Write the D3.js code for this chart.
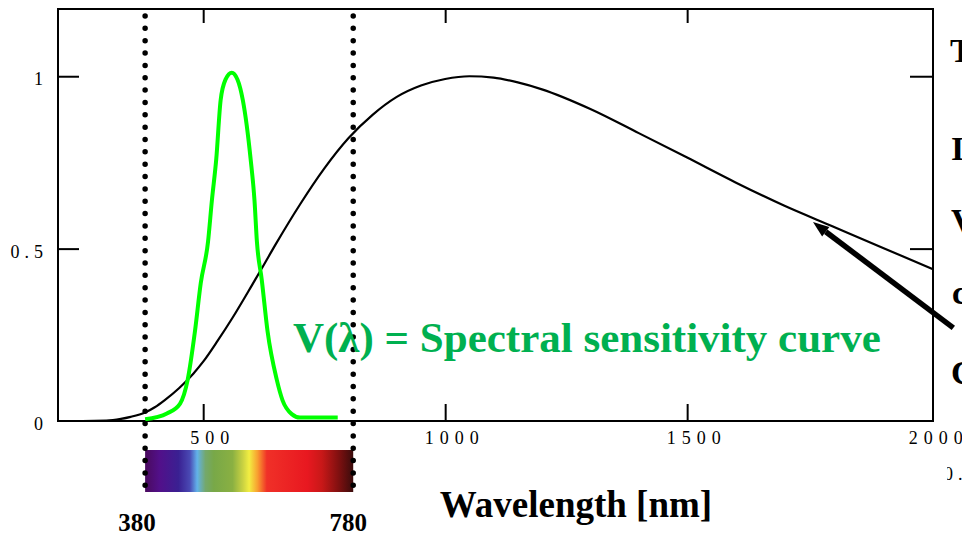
<!DOCTYPE html>
<html><head><meta charset="utf-8">
<script src="https://cdn.jsdelivr.net/npm/d3@7"></script>
<style>
html,body{margin:0;padding:0;background:#fff;overflow:hidden;}
svg{display:block;}
</style></head>
<body>
<script>
// ---- data ----
const blackWl  = [200,250,300,330,350,380,400,420,450,480,500,530,560,600,620,650,700,750,800,850,900,950,1000,1050,1100,1150,1200,1300,1400,1500,1600,1700,1800,1900,2008];
const blackVal = [0,0,0.001,0.006,0.012,0.025,0.04,0.06,0.095,0.138,0.172,0.233,0.298,0.392,0.44,0.513,0.628,0.732,0.82,0.888,0.94,0.973,0.992,1.0,0.996,0.982,0.962,0.905,0.835,0.764,0.692,0.625,0.565,0.505,0.44];
const greenWl  = [380,425,452,468,483,495,510,518,527,536,546,559,571,582,598,606,611,621,633,652,664,683,700,778];
const greenVal = [0.005,0.022,0.05,0.12,0.26,0.40,0.52,0.64,0.76,0.93,0.99,1.01,0.99,0.93,0.76,0.64,0.52,0.41,0.26,0.12,0.06,0.02,0.01,0.01];
const xTicks = [500,1000,1500,2000];
const yTicks = [0,0.5,1];
const visibleEdges = [380,810];
const edgeLabels = ["380","780"];
const spectrumStops = [
  [0.00,"#4a0a5e"],[0.07,"#52108a"],[0.16,"#3a2092"],[0.215,"#4a4ab4"],[0.25,"#62b2ea"],[0.29,"#74a86c"],[0.33,"#78a848"],[0.42,"#8ab042"],[0.47,"#cad242"],[0.50,"#f2ee42"],[0.54,"#f8a030"],[0.585,"#f03028"],[0.78,"#e81820"],[0.85,"#c81818"],[0.93,"#801010"],[1.00,"#3a0c0c"]
];
const arrowFrom = [2050,0.27];
const arrowTo = [1760,0.577];
const labelText = "V(λ) = Spectral sensitivity curve";

// ---- chart ----
const W=962,H=535;
const svg=d3.select("body").append("svg").attr("width",W).attr("height",H);
const x=d3.scaleLinear().domain([200,2008]).range([58,933]);
const y=d3.scaleLinear().domain([0,1.195]).range([421,9]);
const serif="'Liberation Serif','Times New Roman',serif";

// spectrum bar
const grad=svg.append("defs").append("linearGradient").attr("id","spec").attr("x1","0").attr("x2","1").attr("y1","0").attr("y2","0");
grad.selectAll("stop").data(spectrumStops).join("stop").attr("offset",d=>d[0]).attr("stop-color",d=>d[1]);
svg.append("rect").attr("x",x(visibleEdges[0])).attr("width",x(visibleEdges[1])-x(visibleEdges[0])).attr("y",450).attr("height",42).attr("fill","url(#spec)");

// frame
svg.append("rect").attr("x",58).attr("y",9).attr("width",875).attr("height",412).attr("fill","none").attr("stroke","#000").attr("stroke-width",2);

// axes
const tickStyle=g=>{g.select(".domain").remove();g.selectAll("line").attr("stroke","#000").attr("stroke-width",2);};
const gb=svg.append("g").attr("transform","translate(0,421)").call(d3.axisBottom(x).tickValues(xTicks).tickSize(-17).tickFormat(d3.format("d")));
tickStyle(gb);
gb.selectAll(".tick").filter(d=>d===2000).select("line").remove();
gb.selectAll("text").attr("y",23).attr("dy",0).attr("dx",9).attr("font-family",serif).attr("font-size",18).attr("letter-spacing","6px").attr("fill","#000");
const gt=svg.append("g").attr("transform","translate(0,9)").call(d3.axisTop(x).tickValues(xTicks.slice(0,3)).tickSize(-14).tickFormat(""));
tickStyle(gt);
const gl=svg.append("g").attr("transform","translate(58,0)").call(d3.axisLeft(y).tickValues(yTicks).tickSize(-21).tickFormat(d=>d===0.5?"0.5":d3.format("d")(d)));
tickStyle(gl);
gl.selectAll(".tick").filter(d=>d===0).select("line").remove();
gl.selectAll("text").attr("x",-10).attr("dy",8.5).attr("font-family",serif).attr("font-size",18).attr("letter-spacing","5px").attr("text-anchor","end").attr("fill","#000");
const gr=svg.append("g").attr("transform","translate(933,0)").call(d3.axisRight(y).tickValues([0.5,1]).tickSize(-23).tickFormat(""));
tickStyle(gr);

// black curve
const bData=blackWl.map((w,i)=>[w,blackVal[i]]);
svg.append("path").datum(bData).attr("fill","none").attr("stroke","#000").attr("stroke-width",2.2)
  .attr("d",d3.line().x(d=>x(d[0])).y(d=>y(d[1])).curve(d3.curveMonotoneX));

// green curve
const gData=greenWl.map((w,i)=>[w,greenVal[i]]);
svg.append("path").datum(gData).attr("fill","none").attr("stroke","#00ff00").attr("stroke-width",4).attr("stroke-linejoin","round")
  .attr("d",d3.line().x(d=>x(d[0])).y(d=>y(d[1])).curve(d3.curveMonotoneX));

// dotted lines
svg.selectAll(".edge").data(visibleEdges).join("line").attr("class","edge")
  .attr("x1",d=>x(d)).attr("x2",d=>x(d)).attr("y1",16).attr("y2",492)
  .attr("stroke","#000").attr("stroke-width",5.5).attr("stroke-linecap","round").attr("stroke-dasharray","0 12.35");

// edge labels
svg.selectAll(".elab").data(visibleEdges).join("text").attr("class","elab")
  .attr("x",(d,i)=>x(d)+(i===0?-8:-5)).attr("y",531).attr("text-anchor","middle")
  .attr("font-family",serif).attr("font-weight","bold").attr("font-size",25).text((d,i)=>edgeLabels[i]);

// axis title
svg.append("text").attr("x",576).attr("y",517).attr("text-anchor","middle").attr("font-family",serif).attr("font-weight","bold").attr("font-size",37).text("Wavelength [nm]");

// green label
svg.append("text").attr("x",293).attr("y",352).attr("font-family",serif).attr("font-weight","bold").attr("font-size",43).attr("fill","#00b050").text(labelText);

// arrow
const ax1=x(arrowFrom[0]),ay1=y(arrowFrom[1]),ax2=x(arrowTo[0]),ay2=y(arrowTo[1]);
const ang=Math.atan2(ay2-ay1,ax2-ax1);
const hl=16,hw=6;
const bx=ax2-hl*Math.cos(ang),by=ay2-hl*Math.sin(ang);
svg.append("line").attr("x1",ax1).attr("y1",ay1).attr("x2",bx).attr("y2",by).attr("stroke","#000").attr("stroke-width",5.5);
svg.append("path").attr("fill","#000").attr("d",`M${ax2},${ay2}L${bx-hw*Math.sin(ang)},${by+hw*Math.cos(ang)}L${bx+hw*Math.sin(ang)},${by-hw*Math.cos(ang)}Z`);

// cut-off fragments at right edge (as in the reference)
const frags=[["T",950,62],["I",951,160],["V",951,232],["c",952,304],["C",951,384]];
svg.selectAll(".frag").data(frags).join("text").attr("class","frag").attr("x",d=>d[1]).attr("y",d=>d[2])
  .attr("font-family",serif).attr("font-weight","bold").attr("font-size",34).attr("fill","#000").text(d=>d[0]);
svg.append("text").attr("x",944).attr("y",480).attr("font-family",serif).attr("font-size",18).attr("letter-spacing","5px").text("0.5");
svg.append("rect").attr("x",936).attr("y",460).attr("width",11).attr("height",24).attr("fill","#fff");
</script>
</body></html>
